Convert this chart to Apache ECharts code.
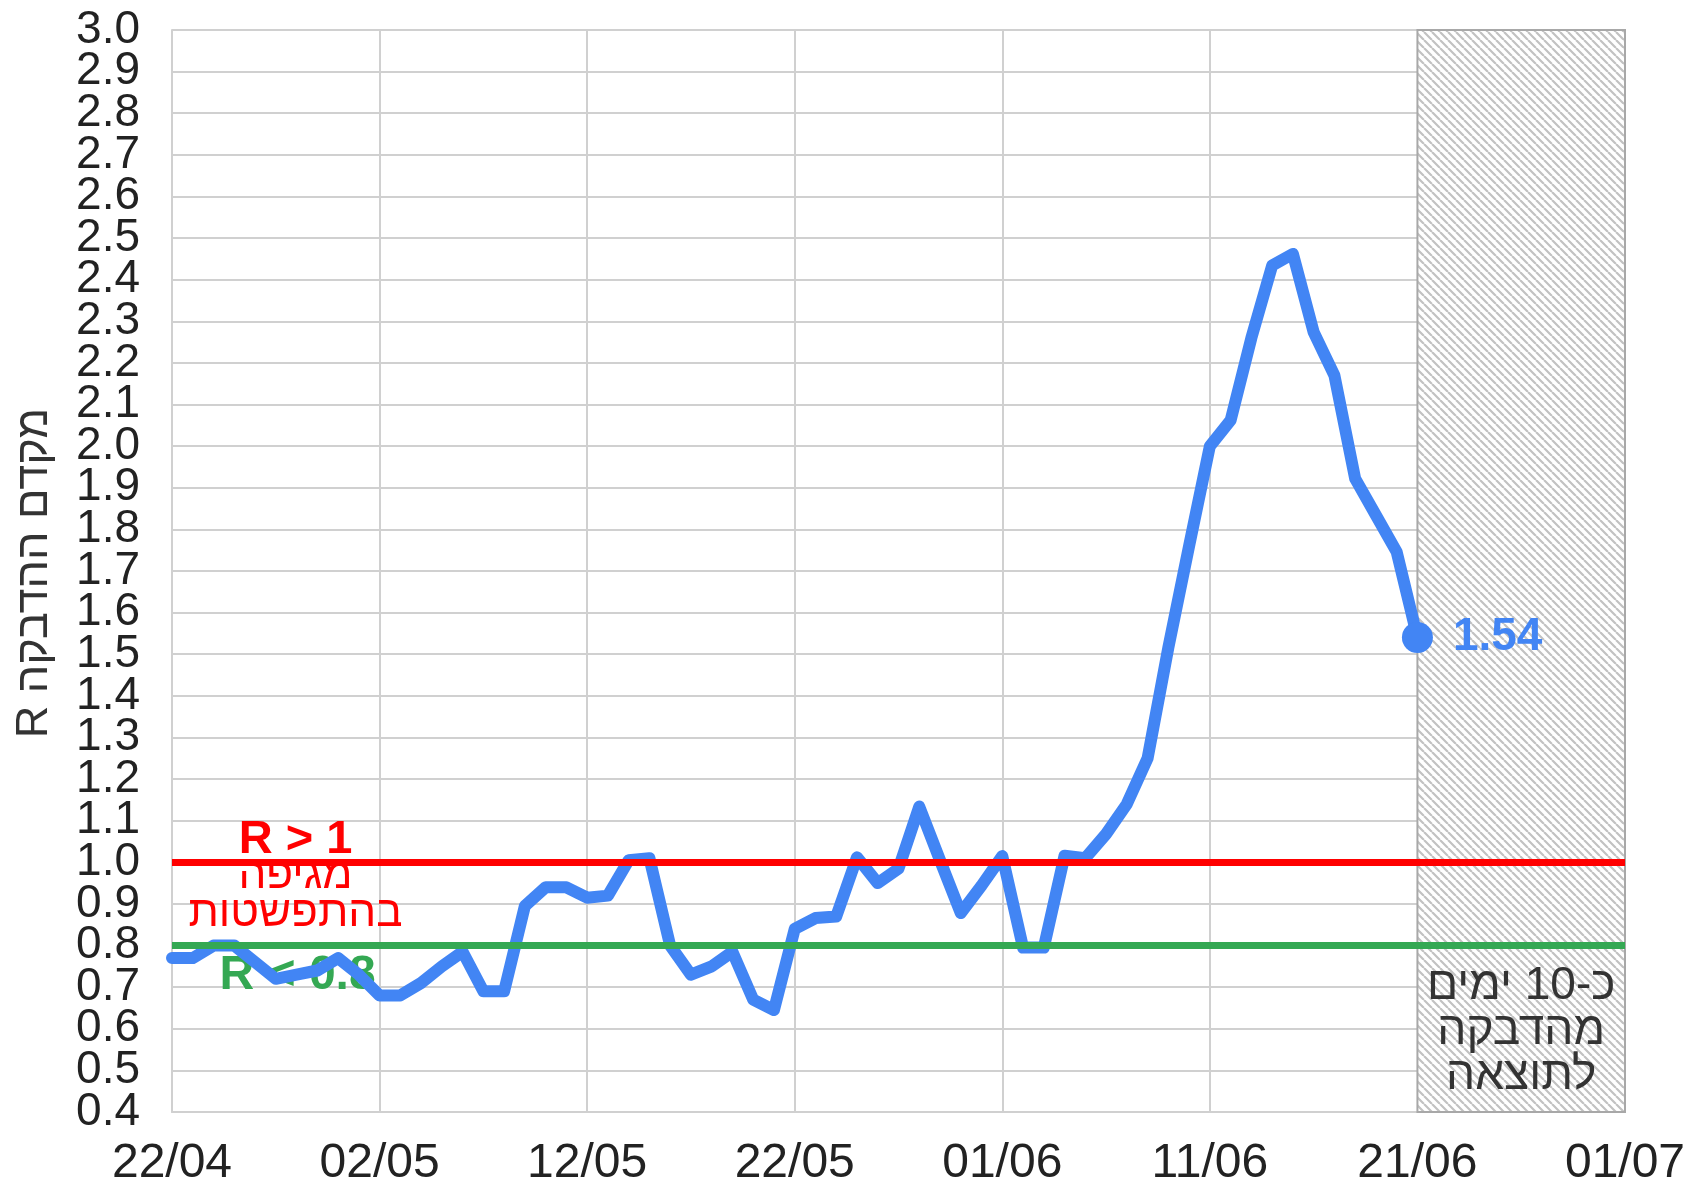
<!DOCTYPE html>
<html><head><meta charset="utf-8">
<script src="https://cdn.jsdelivr.net/npm/echarts@6/dist/echarts.min.js"></script>
<style>html,body{margin:0;padding:0;background:#fff}#c{width:1691px;height:1183px}</style>
</head><body><div id="c"></div><script>
// ---- data ----
const dates = ['22/04','23/04','24/04','25/04','26/04','27/04','28/04','29/04','30/04','01/05',
  '02/05','03/05','04/05','05/05','06/05','07/05','08/05','09/05','10/05','11/05',
  '12/05','13/05','14/05','15/05','16/05','17/05','18/05','19/05','20/05','21/05',
  '22/05','23/05','24/05','25/05','26/05','27/05','28/05','29/05','30/05','31/05',
  '01/06','02/06','03/06','04/06','05/06','06/06','07/06','08/06','09/06','10/06',
  '11/06','12/06','13/06','14/06','15/06','16/06','17/06','18/06','19/06','20/06','21/06'];
const rValues = [0.77,0.77,0.80,0.80,0.76,0.72,0.73,0.74,0.77,0.73,
  0.68,0.68,0.71,0.75,0.785,0.69,0.69,0.895,0.94,0.94,
  0.915,0.92,1.005,1.01,0.80,0.73,0.75,0.785,0.67,0.645,
  0.84,0.866,0.87,1.012,0.95,0.985,1.134,1.005,0.878,0.944,
  1.015,0.795,0.795,1.016,1.01,1.068,1.14,1.25,1.516,1.76,
  2.0,2.062,2.26,2.434,2.462,2.274,2.17,1.922,1.834,1.746,1.54];
const xTickLabels = ['22/04','02/05','12/05','22/05','01/06','11/06','21/06','01/07'];
const yMin = 0.4, yMax = 3.0, yStep = 0.1;
const thresholds = [1.0, 0.8];
const forecastRange = ['21/06','01/07'];
const yAxisTitle = '\u202Bמקדם ההדבקה R\u202C';
const noteTexts = ['R > 1', 'מגיפה\nבהתפשטות', 'R < 0.8', 'כ-10 ימים\nמהדבקה\nלתוצאה'];

// ---- helpers ----
const YEAR = 2021;
function dayIndex(s){
  const [d,m] = s.split('/').map(Number);
  return (Date.UTC(YEAR, m-1, d) - Date.UTC(YEAR, 3, 22)) / 86400000;
}
const lineData = dates.map((d,i)=>[dayIndex(d), rValues[i]]);
const last = lineData[lineData.length-1];
const xMax = dayIndex(xTickLabels[xTickLabels.length-1]);

// hatch pattern
const P = 8;
const pc = document.createElement('canvas'); pc.width = P; pc.height = P;
const g = pc.getContext('2d');
g.fillStyle = '#ffffff'; g.fillRect(0,0,P,P);
g.strokeStyle = '#c2c2c2'; g.lineWidth = 2.2;
g.beginPath();
for (let k=-1;k<=1;k++){ g.moveTo(k*P,0); g.lineTo(k*P+P,P); }
g.stroke();

const FONT = "'Liberation Sans', Arial, sans-serif";
const gridColor = '#d0d0d0';
const yLabelStyle = {fontSize: 46, color: '#222', fontFamily: FONT, margin: 32};

const chart = echarts.init(document.getElementById('c'), null, {renderer:'canvas'});
chart.setOption({
  animation: false,
  backgroundColor: '#ffffff',
  textStyle: {fontFamily: FONT},
  grid: {left: 172, right: 66, top: 30, bottom: 71, containLabel: false, outerBoundsMode: 'none'},
  xAxis: {
    type: 'value', min: 0, max: xMax, interval: 10,
    axisLine: {show: true, lineStyle: {color: gridColor, width: 2}},
    axisTick: {show: false},
    splitLine: {show: true, lineStyle: {color: gridColor, width: 2}},
    axisLabel: {
      fontSize: 48, color: '#222', fontFamily: FONT, margin: 32,
      showMinLabel: true, showMaxLabel: true, lineHeight: 40,
      formatter: v => xTickLabels[Math.round(v/10)] || ''
    }
  },
  yAxis: [
    { // even-tenth labels + axis line
      type: 'value', min: yMin, max: yMax, interval: 2*yStep, position: 'left',
      axisLine: {show: true, lineStyle: {color: gridColor, width: 2}},
      axisTick: {show: false},
      splitLine: {show: false},
      axisLabel: Object.assign({showMinLabel: true, showMaxLabel: true, formatter: v => v.toFixed(1)}, yLabelStyle)
    },
    { // every tenth gridline + odd-tenth labels
      type: 'value', min: yMin, max: yMax, interval: yStep, position: 'left', offset: 0,
      axisLine: {show: false},
      axisTick: {show: false},
      splitLine: {show: true, lineStyle: {color: gridColor, width: 2}},
      axisLabel: Object.assign({showMinLabel: false, showMaxLabel: false,
        formatter: v => (Math.round(v*10) % 2 === 1) ? v.toFixed(1) : ''}, yLabelStyle)
    }
  ],
  graphic: [{
    type: 'text', x: 35, y: 573, rotation: Math.PI/2,
    style: {text: yAxisTitle, fontSize: 45, fontFamily: FONT, fill: '#333',
      align: 'center', verticalAlign: 'middle'}
  }],
  series: [
    {
      name: 'hatch', type: 'line', data: [], z: -1, silent: true,
      markArea: {
        silent: true,
        itemStyle: {color: {image: pc, repeat: 'repeat'}, borderColor: '#a8a8a8', borderWidth: 2, opacity: 1},
        data: [[{xAxis: dayIndex(forecastRange[0]), yAxis: yMin}, {xAxis: dayIndex(forecastRange[1]), yAxis: yMax}]]
      }
    },
    {
      name: 'notes', type: 'scatter', z: 2, silent: true, symbolSize: 0,
      itemStyle: {color: '#ffffff', opacity: 1},
      label: {show: true, position: [0, 0], align: 'center', verticalAlign: 'middle',
        fontFamily: FONT, formatter: p => p.data.txt},
      data: [
        {value: [5.95, 1.053], txt: noteTexts[0], label: {fontSize: 47, fontWeight: 'bold', color: '#ff0000'}},
        {value: [5.95, 0.921], txt: noteTexts[1], label: {fontSize: 44, color: '#ff0000', lineHeight: 38}},
        {value: [6.05, 0.727], txt: noteTexts[2], label: {fontSize: 48, fontWeight: 'bold', color: '#34a853'}},
        {value: [65, 0.593], txt: noteTexts[3], label: {fontSize: 46, color: '#333', lineHeight: 45}}
      ]
    },
    {
      name: 'thresholds', type: 'line', data: [], z: 3, silent: true,
      markLine: {
        silent: true, symbol: 'none', label: {show: false},
        data: [
          {yAxis: thresholds[0], lineStyle: {color: '#ff0000', width: 7, type: 'solid', opacity: 1}},
          {yAxis: thresholds[1], lineStyle: {color: '#34a853', width: 7, type: 'solid', opacity: 1}}
        ]
      }
    },
    {
      name: 'R', type: 'line', z: 4, data: lineData, showSymbol: false, symbol: 'none',
      lineStyle: {color: '#4285f4', width: 12, cap: 'round', join: 'round'}
    },
    {
      name: 'last', type: 'scatter', z: 5, data: [last], symbol: 'circle', symbolSize: 31,
      itemStyle: {color: '#4285f4', opacity: 1},
      label: {show: true, position: 'right', distance: 20, fontSize: 46, fontWeight: 'bold',
        color: '#4285f4', fontFamily: FONT, formatter: p => p.value[1].toFixed(2)}
    }
  ]
});
</script></body></html>
